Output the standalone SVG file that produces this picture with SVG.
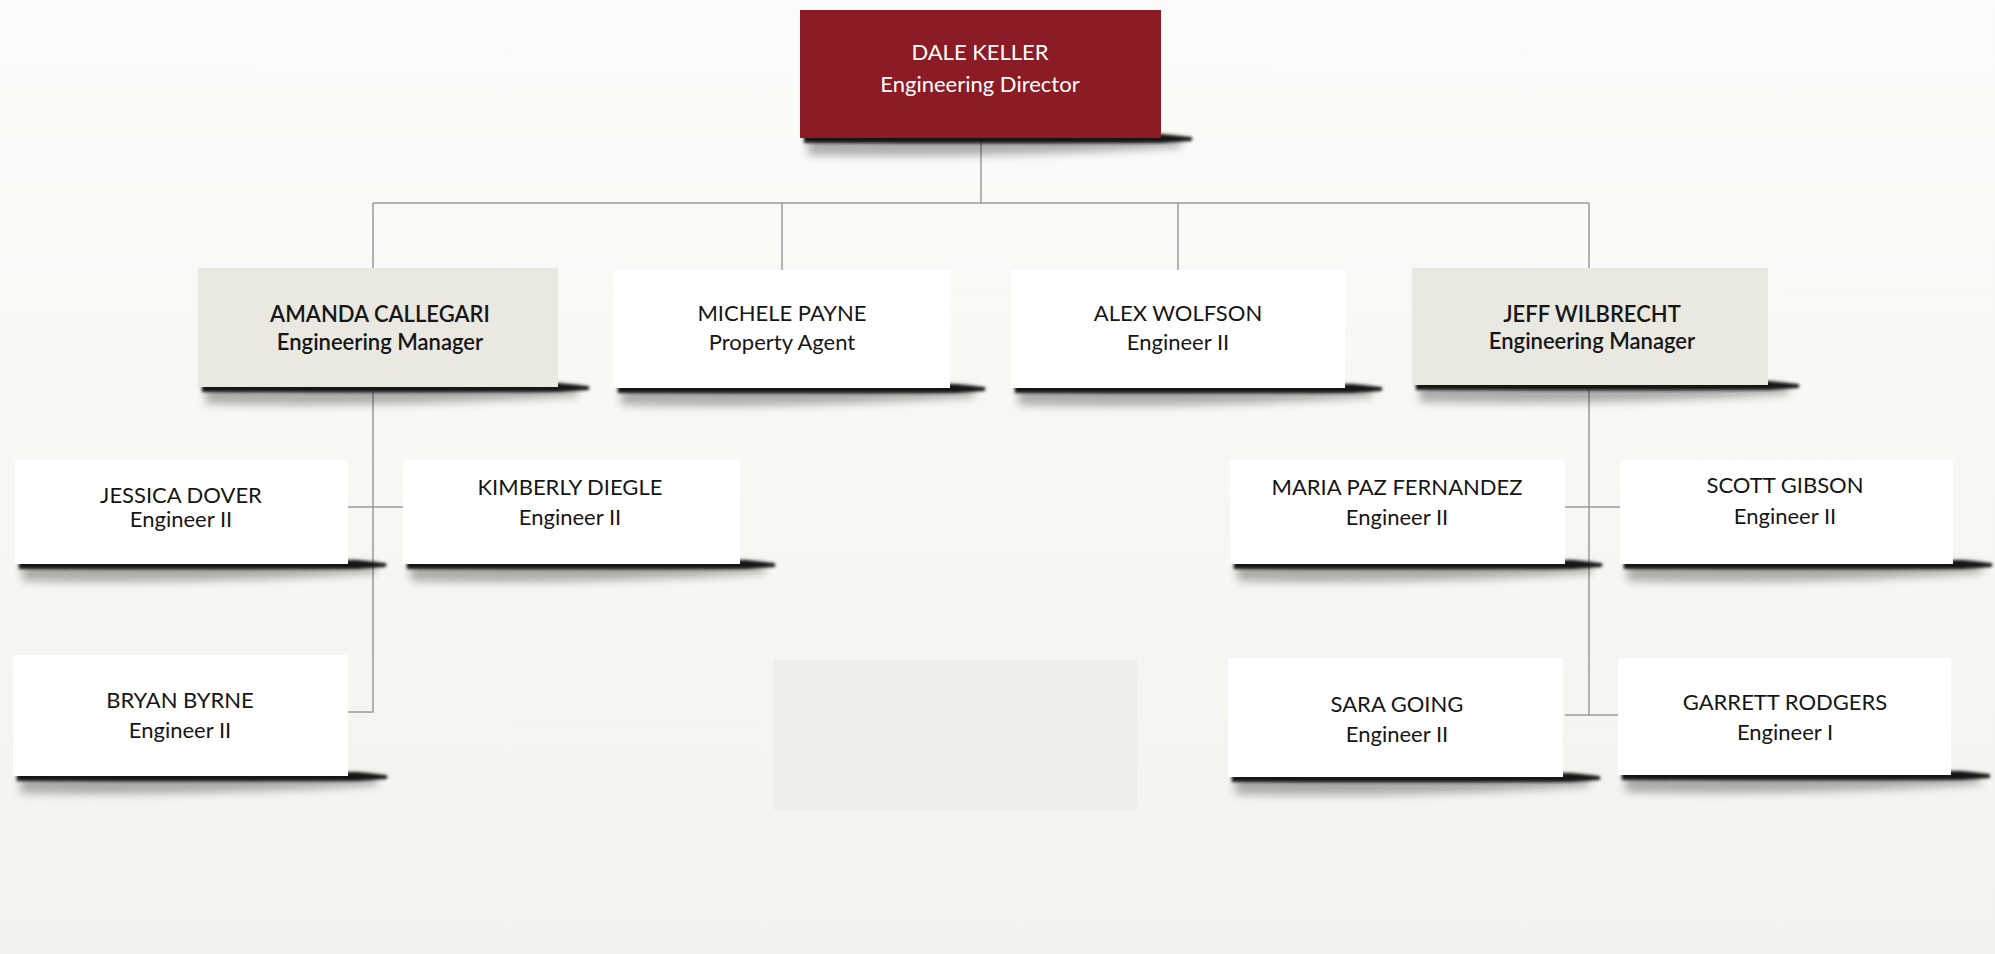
<svg xmlns="http://www.w3.org/2000/svg" xmlns:xlink="http://www.w3.org/1999/xlink" width="1995" height="954" viewBox="0 0 1995 954">
  <defs>
    <linearGradient id="paper" x1="0" y1="0" x2="0" y2="1">
      <stop offset="0" stop-color="#fbfbf9"/>
      <stop offset="1" stop-color="#f3f3ee"/>
    </linearGradient>
    <filter id="blurCore" x="-5%" y="-100%" width="110%" height="300%">
      <feGaussianBlur stdDeviation="1.4"/>
    </filter>
    <filter id="blurHaze" x="-5%" y="-100%" width="110%" height="300%">
      <feGaussianBlur stdDeviation="4"/>
    </filter>
    <!-- curled-paper shadow, drawn under the bottom edge of a card -->
    <symbol id="curlCore" viewBox="0 0 400 30" preserveAspectRatio="none">
      <path d="M4,2 L368,2 L398,5 Q401,7 398,9 L368,11 Q200,12 4,11 Z" fill="#161616"/>
    </symbol>
    <symbol id="curlHaze" viewBox="0 0 400 30" preserveAspectRatio="none">
      <path d="M8,6 L388,6 L388,15 Q200,27 8,23 Z" fill="#000" opacity="0.3"/>
    </symbol>
    <style>
      .card { fill: #ffffff; }
      .mgr { fill: #e9e8e1; }
      .head { fill: #8b1b24; }
      .name, .role { font-family: Lato, "Liberation Sans", sans-serif; font-size: 22px; text-anchor: middle; fill: #161616; }
      .mgrText { font-weight: 600; }
      .light { fill: #ffffff; }
      .link { fill: none; stroke: #9b9b9b; stroke-width: 1.5; }
    </style>
  </defs>

  <rect x="0" y="0" width="1995" height="954" fill="url(#paper)"/>
  <!-- faint show-through block -->
  <rect x="773" y="660" width="364" height="150" fill="#eeeeea"/>

  <!-- connectors -->
  <g id="connectors">
    <path class="link" d="M981,138 V203"/>
    <path class="link" d="M373,203 H1589"/>
    <path class="link" d="M373,203 V268 M782,203 V270 M1178,203 V270 M1589,203 V268"/>
    <path class="link" d="M373,387 V712 H348"/>
    <path class="link" d="M348,507 H403"/>
    <path class="link" d="M1589,385 V715 M1565,715 H1618"/>
    <path class="link" d="M1565,507 H1620"/>
  </g>

  <g id="dale-keller">
    <use href="#curlHaze" x="800" y="132" width="393" height="30" filter="url(#blurHaze)"/>
    <use href="#curlCore" x="800" y="132" width="393" height="30" filter="url(#blurCore)"/>
    <rect class="head" x="800" y="10" width="361" height="128"/>
    <text class="name light" x="980" y="60">DALE KELLER</text>
    <text class="role light" x="980" y="92">Engineering Director</text>
  </g>

  <g id="amanda-callegari">
    <use href="#curlHaze" x="198" y="381" width="392" height="30" filter="url(#blurHaze)"/>
    <use href="#curlCore" x="198" y="381" width="392" height="30" filter="url(#blurCore)"/>
    <rect class="mgr" x="198" y="268" width="360" height="119"/>
    <text class="name mgrText" x="380" y="322">AMANDA CALLEGARI</text>
    <text class="role mgrText" x="380" y="350">Engineering Manager</text>
  </g>

  <g id="michele-payne">
    <use href="#curlHaze" x="614" y="382" width="372" height="30" filter="url(#blurHaze)"/>
    <use href="#curlCore" x="614" y="382" width="372" height="30" filter="url(#blurCore)"/>
    <rect class="card" x="614" y="270" width="336" height="118"/>
    <text class="name" x="782" y="321">MICHELE PAYNE</text>
    <text class="role" x="782" y="350">Property Agent</text>
  </g>

  <g id="alex-wolfson">
    <use href="#curlHaze" x="1011" y="382" width="372" height="30" filter="url(#blurHaze)"/>
    <use href="#curlCore" x="1011" y="382" width="372" height="30" filter="url(#blurCore)"/>
    <rect class="card" x="1011" y="270" width="334" height="118"/>
    <text class="name" x="1178" y="321">ALEX WOLFSON</text>
    <text class="role" x="1178" y="350">Engineer II</text>
  </g>

  <g id="jeff-wilbrecht">
    <use href="#curlHaze" x="1412" y="379" width="388" height="30" filter="url(#blurHaze)"/>
    <use href="#curlCore" x="1412" y="379" width="388" height="30" filter="url(#blurCore)"/>
    <rect class="mgr" x="1412" y="268" width="356" height="117"/>
    <text class="name mgrText" x="1592" y="322">JEFF WILBRECHT</text>
    <text class="role mgrText" x="1592" y="349">Engineering Manager</text>
  </g>

  <g id="jessica-dover">
    <use href="#curlHaze" x="15" y="558" width="372" height="30" filter="url(#blurHaze)"/>
    <use href="#curlCore" x="15" y="558" width="372" height="30" filter="url(#blurCore)"/>
    <rect class="card" x="15" y="460" width="333" height="104"/>
    <text class="name" x="181" y="503">JESSICA DOVER</text>
    <text class="role" x="181" y="527">Engineer II</text>
  </g>

  <g id="kimberly-diegle">
    <use href="#curlHaze" x="403" y="558" width="373" height="30" filter="url(#blurHaze)"/>
    <use href="#curlCore" x="403" y="558" width="373" height="30" filter="url(#blurCore)"/>
    <rect class="card" x="403" y="460" width="337" height="104"/>
    <text class="name" x="570" y="495">KIMBERLY DIEGLE</text>
    <text class="role" x="570" y="525">Engineer II</text>
  </g>

  <g id="bryan-byrne">
    <use href="#curlHaze" x="13" y="770" width="375" height="30" filter="url(#blurHaze)"/>
    <use href="#curlCore" x="13" y="770" width="375" height="30" filter="url(#blurCore)"/>
    <rect class="card" x="13" y="655" width="335" height="121"/>
    <text class="name" x="180" y="708">BRYAN BYRNE</text>
    <text class="role" x="180" y="738">Engineer II</text>
  </g>

  <g id="maria-paz-fernandez">
    <use href="#curlHaze" x="1230" y="558" width="373" height="30" filter="url(#blurHaze)"/>
    <use href="#curlCore" x="1230" y="558" width="373" height="30" filter="url(#blurCore)"/>
    <rect class="card" x="1230" y="460" width="335" height="104"/>
    <text class="name" x="1397" y="495">MARIA PAZ FERNANDEZ</text>
    <text class="role" x="1397" y="525">Engineer II</text>
  </g>

  <g id="scott-gibson">
    <use href="#curlHaze" x="1620" y="558" width="373" height="30" filter="url(#blurHaze)"/>
    <use href="#curlCore" x="1620" y="558" width="373" height="30" filter="url(#blurCore)"/>
    <rect class="card" x="1620" y="460" width="333" height="104"/>
    <text class="name" x="1785" y="493">SCOTT GIBSON</text>
    <text class="role" x="1785" y="524">Engineer II</text>
  </g>

  <g id="sara-going">
    <use href="#curlHaze" x="1228" y="771" width="373" height="30" filter="url(#blurHaze)"/>
    <use href="#curlCore" x="1228" y="771" width="373" height="30" filter="url(#blurCore)"/>
    <rect class="card" x="1228" y="658" width="335" height="119"/>
    <text class="name" x="1397" y="712">SARA GOING</text>
    <text class="role" x="1397" y="742">Engineer II</text>
  </g>

  <g id="garrett-rodgers">
    <use href="#curlHaze" x="1618" y="769" width="373" height="30" filter="url(#blurHaze)"/>
    <use href="#curlCore" x="1618" y="769" width="373" height="30" filter="url(#blurCore)"/>
    <rect class="card" x="1618" y="658" width="333" height="117"/>
    <text class="name" x="1785" y="710">GARRETT RODGERS</text>
    <text class="role" x="1785" y="740">Engineer I</text>
  </g>
</svg>
